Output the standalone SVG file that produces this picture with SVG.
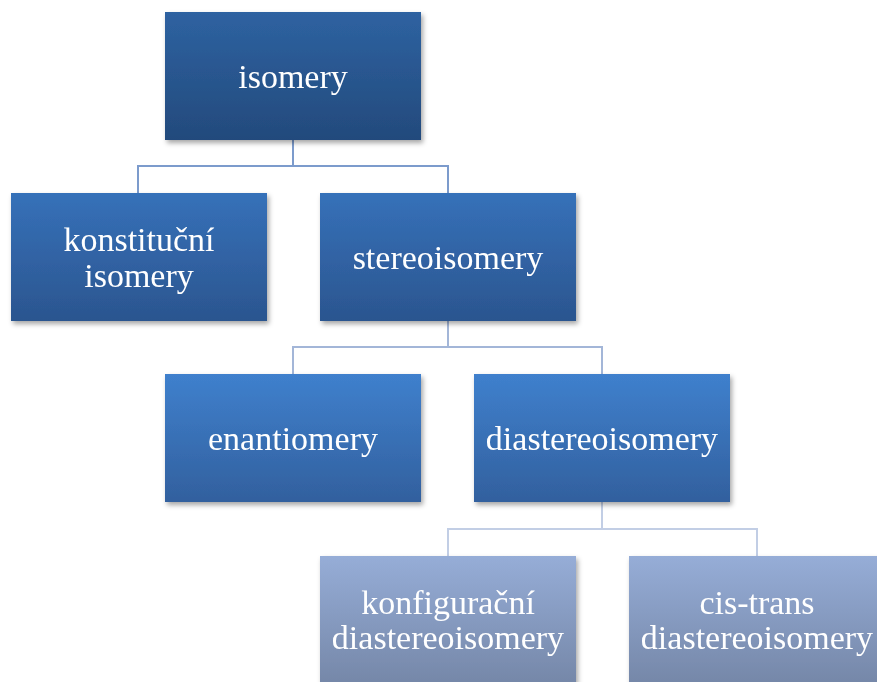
<svg xmlns="http://www.w3.org/2000/svg" width="877" height="682" viewBox="0 0 877 682">
<defs>
<linearGradient id="g1" x1="0" y1="0" x2="0" y2="1"><stop offset="0" stop-color="#2e62a1"/><stop offset="1" stop-color="#234a7c"/></linearGradient>
<linearGradient id="g2" x1="0" y1="0" x2="0" y2="1"><stop offset="0" stop-color="#3671b9"/><stop offset="1" stop-color="#2b558f"/></linearGradient>
<linearGradient id="g3" x1="0" y1="0" x2="0" y2="1"><stop offset="0" stop-color="#3f80cd"/><stop offset="1" stop-color="#32609e"/></linearGradient>
<linearGradient id="g4" x1="0" y1="0" x2="0" y2="1"><stop offset="0" stop-color="#96add7"/><stop offset="1" stop-color="#7587a8"/></linearGradient>
<filter id="sh" x="-10%" y="-10%" width="125%" height="130%"><feDropShadow dx="2" dy="3" stdDeviation="2.5" flood-color="#000" flood-opacity="0.35"/></filter>
</defs>
<style>
text{font-family:"Liberation Serif","Times New Roman",serif;font-size:34px;fill:#fff;text-anchor:middle}
.c{fill:none;stroke-width:2}
</style>
<g id="connectors">
<path class="c" stroke="#7c9bcc" d="M293 140V166M138 193V166H448V193"/>
<path class="c" stroke="#a3b6d8" d="M448 321V347M293 374V347H602V374"/>
<path class="c" stroke="#c2cee5" d="M602 502V529M448 556V529H757V556"/>
</g>
<g id="n1" filter="url(#sh)"><rect x="165" y="12" width="256" height="128" fill="url(#g1)"/><text x="293" y="88">isomery</text></g>
<g id="n2" filter="url(#sh)"><rect x="11" y="193" width="256" height="128" fill="url(#g2)"/><text x="139" y="251">konstituční</text><text x="139" y="287">isomery</text></g>
<g id="n3" filter="url(#sh)"><rect x="320" y="193" width="256" height="128" fill="url(#g2)"/><text x="448" y="269">stereoisomery</text></g>
<g id="n4" filter="url(#sh)"><rect x="165" y="374" width="256" height="128" fill="url(#g3)"/><text x="293" y="450">enantiomery</text></g>
<g id="n5" filter="url(#sh)"><rect x="474" y="374" width="256" height="128" fill="url(#g3)"/><text x="602" y="450">diastereoisomery</text></g>
<g id="n6" filter="url(#sh)"><rect x="320" y="556" width="256" height="128" fill="url(#g4)"/><text x="448" y="614">konfigurační</text><text x="448" y="649">diastereoisomery</text></g>
<g id="n7" filter="url(#sh)"><rect x="629" y="556" width="256" height="128" fill="url(#g4)"/><text x="757" y="614">cis-trans</text><text x="757" y="649">diastereoisomery</text></g>
</svg>
